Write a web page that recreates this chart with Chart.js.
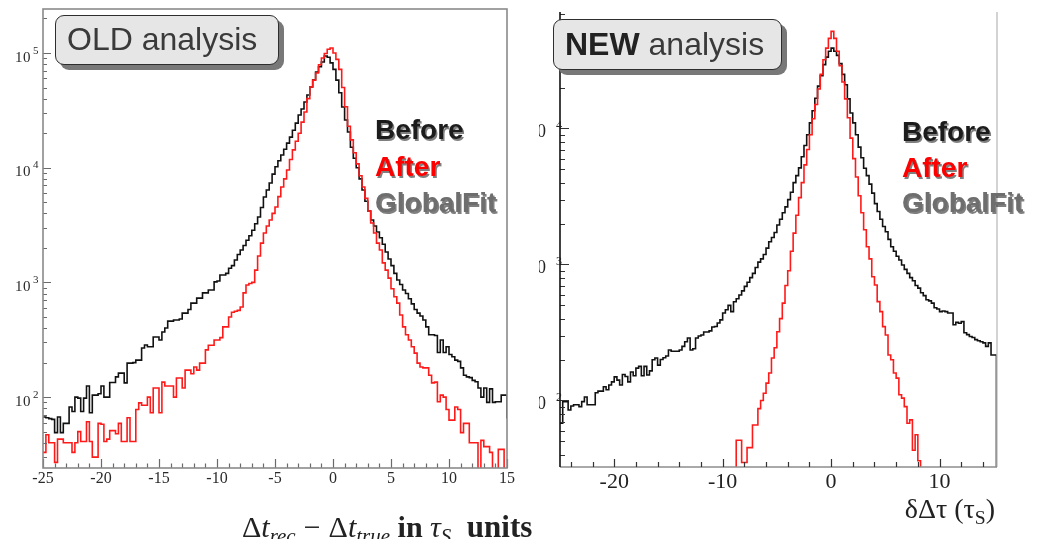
<!DOCTYPE html>
<html>
<head>
<meta charset="utf-8">
<title>OLD vs NEW analysis</title>
<script src="https://cdn.jsdelivr.net/npm/chart.js@4.4.1/dist/chart.umd.min.js"></script>
<style>
  html, body { margin: 0; padding: 0; background: #fff; }
  body { width: 1049px; height: 539px; position: relative; overflow: hidden; }
  canvas { position: absolute; top: 0; }
  #oldChart { left: 0; }
  #newChart { left: 539px; }
  .box { position: absolute; box-sizing: border-box; border: 1.5px solid #2e2e2e; border-radius: 9px;
         background: #e6e6e6; box-shadow: 5px 5px 0 #787878; }
  .boxText { position: absolute; font-family: "Liberation Sans", Arial, sans-serif; font-size: 32px;
             line-height: 32px; color: #3a3a3a; white-space: nowrap; }
  .boxText b { color: #222; }
  .leg { position: absolute; font-family: "Liberation Sans", Arial, sans-serif; font-weight: bold;
         font-size: 28px; line-height: 28px; white-space: nowrap;
         text-shadow: 1.5px 1.5px 0.5px rgba(0,0,0,0.5); }
  .before { color: #1c1c1c; }
  .after { color: #ff0000; }
  .fit { color: #6e6e6e; }
  .xtitle { position: absolute; font-family: "Liberation Serif", "Times New Roman", serif; color: #222; white-space: nowrap; }
  .xtitle sub { font-size: 0.7em; vertical-align: -0.3em; line-height: 0; }
  .op { margin: 0 8px; }
</style>
</head>
<body>
<canvas id="oldChart" width="525" height="539"></canvas>
<canvas id="newChart" width="510" height="539"></canvas>

<div class="box" style="left:55px; top:15px; width:224px; height:50px;"></div>
<div class="boxText" style="left:67px; top:23px;">OLD analysis</div>
<div class="box" style="left:553px; top:19px; width:229px; height:51px;"></div>
<div class="boxText" style="left:565px; top:28px;"><b>NEW</b> analysis</div>

<div class="leg before" style="left:375px; top:116px;">Before</div>
<div class="leg after" style="left:375px; top:153px;">After</div>
<div class="leg fit" style="left:375px; top:189px;">GlobalFit</div>
<div class="leg before" style="left:902px; top:118px;">Before</div>
<div class="leg after" style="left:902px; top:154px;">After</div>
<div class="leg fit" style="left:902px; top:189px;">GlobalFit</div>

<div class="xtitle" style="left:242px; top:512px; font-size:30px; line-height:30px;">&Delta;<i>t</i><sub><i>rec</i></sub><span class="op">&minus;</span>&Delta;<i>t</i><sub><i>true</i></sub> <b>in</b> <i>&tau;</i><sub><i>S</i></sub> <b style="margin-left:8px; font-size:31px;">units</b></div>
<div class="xtitle" style="right:54px; top:495px; font-size:28px; line-height:28px;">&delta;&Delta;&tau; (&tau;<sub>S</sub>)</div>

<script>
// ================== DATA ==================
const binWidth = 0.25;

const oldTicksX = [-25, -20, -15, -10, -5, 0, 5, 10, 15];
const oldDecades = [2, 3, 4, 5];
const newTicksX = [-20, -10, 0, 10];
const newDecades = [2, 3, 4];

// OLD analysis, bins of 0.25 from -25 to 15
const oldBeforeStart = -25;
const oldBefore = [
  67, 66, 65, 64, 49, 67, 49, 59,
  59, 82, 75, 100, 98, 75, 98, 125,
  73, 104, 104, 107, 125, 100, 100, 134,
  134, 150, 162, 162, 133, 198, 198, 200,
  210, 210, 268, 285, 275, 275, 334, 334,
  315, 370, 400, 460, 460, 470, 470, 480,
  540, 540, 580, 660, 660, 730, 730, 810,
  810, 860, 860, 1010, 1030, 1160, 1160, 1200,
  1330, 1400, 1570, 1750, 1920, 2100, 2330, 2550,
  2850, 3250, 3720, 4500, 5550, 6400, 7360, 8800,
  10200, 11500, 12900, 14500, 16400, 18500, 21200, 24500,
  28800, 32500, 37400, 43000, 50600, 58500, 68300, 76000,
  83500, 94200, 92000, 82000, 72000, 58000, 45000, 33800,
  26100, 20500, 15100, 12100, 10000, 8000, 6400, 5100,
  4200, 3500, 3100, 2750, 2450, 2150, 1840, 1600,
  1400, 1200, 1050, 960, 860, 800, 720, 650,
  580, 540, 510, 470, 410, 350, 350, 345,
  245, 315, 245, 275, 235, 225, 210, 205,
  180, 155, 150, 148, 140, 136, 120, 100,
  120, 90, 118, 90, 91, 91, 104, 104
];
const oldBeforeEnd = 65;

const oldAfterStart = -25;
const oldAfter = [
  33, 47, 40, 40, 27, 43, 43, 40,
  40, 40, 33, 40, 50, 41, 41, 61,
  41, 30, 30, 59, 58, 41, 43, 51,
  51, 48, 59, 41, 41, 66, 41, 41,
  78, 89, 85, 85, 100, 73, 120, 120,
  73, 135, 125, 125, 125, 100, 147, 147,
  120, 172, 172, 160, 183, 172, 198, 198,
  258, 283, 283, 315, 315, 330, 410, 410,
  500, 550, 560, 570, 610, 810, 950, 980,
  1000, 1280, 1700, 2200, 2700, 3100, 3500, 4000,
  4540, 5600, 6800, 8000, 9550, 11800, 14300, 17000,
  20000, 25000, 30600, 40000, 50600, 58000, 67000, 79000,
  90500, 99000, 108000, 110600, 100000, 88000, 72000, 50000,
  34000, 23000, 17500, 13500, 10800, 8500, 6800, 5400,
  4200, 3300, 2700, 2200, 1920, 1480, 1280, 1090,
  880, 750, 660, 520, 410, 350, 315, 275,
  242, 198, 183, 180, 180, 155, 133, 135,
  91, 104, 100, 78, 63, 63, 82, 78,
  49, 59, 59, 40, 40, 40, 15, 42,
  37, 37, 33, 15, 15, 35, 35, 15
];
const oldAfterEnd = 15;

// NEW analysis, bins of 0.25 from -25 to 15.25
const newBeforeStart = -25;
const newBefore = [
  68, 98, 98, 85, 91, 93, 93, 90,
  98, 106, 93, 93, 93, 114, 117, 117,
  126, 120, 130, 137, 149, 141, 130, 155,
  150, 137, 162, 152, 173, 178, 152, 178,
  154, 165, 199, 205, 182, 200, 206, 212,
  235, 230, 230, 230, 235, 250, 270, 288,
  235, 240, 288, 298, 303, 319, 319, 325,
  347, 350, 371, 391, 440, 464, 500, 450,
  532, 560, 597, 640, 690, 740, 800, 860,
  950, 1040, 1100, 1185, 1320, 1470, 1580, 1720,
  1950, 2150, 2400, 2650, 3000, 3400, 4000, 4500,
  5130, 6200, 7500, 9000, 11000, 13500, 16700, 20500,
  24500, 29500, 33500, 37000, 39000, 37000, 34500, 30000,
  25000, 21000, 16500, 13000, 11000, 9000, 7300, 6100,
  5100, 4500, 3900, 3350, 2800, 2450, 2150, 1900,
  1740, 1530, 1350, 1250, 1150, 1080, 990, 920,
  860, 800, 760, 700, 670, 620, 590, 550,
  540, 520, 480, 470, 450, 455, 450, 440,
  440, 360, 375, 370, 380, 315, 305, 295,
  290, 280, 275, 270, 265, 250, 265, 216,
  216
];
const newBeforeEnd = 1;

const newAfterStart = -9;
const newAfter = [
  10, 51, 51, 35, 35, 45, 45, 66,
  66, 87, 100, 113, 134, 159, 205, 244,
  320, 400, 520, 700, 900, 1250, 1700, 2300,
  3100, 4000, 5400, 7000, 9000, 11800, 15000, 19500,
  25000, 32000, 39000, 46000, 51800, 46000, 37000, 29000,
  22000, 16500, 12000, 8500, 6000, 4400, 3200, 2400,
  1800, 1350, 1100, 813, 706, 533, 450, 349,
  303, 216, 199, 159, 146, 110, 104, 90,
  68, 72, 43, 56, 36, 10
];
const newAfterEnd = 10;

// ================== HELPERS ==================
function histPoints(start, counts, closing) {
  const pts = counts.map((c, i) => ({ x: start + i * binWidth, y: c }));
  pts.push({ x: start + counts.length * binWidth, y: closing });
  return pts;
}

function histDataset(label, color, pts, order) {
  return {
    label,
    data: pts,
    borderColor: color,
    borderWidth: 1.6,
    pointRadius: 0,
    fill: false,
    stepped: "before",
    tension: 0,
    order,
  };
}

function hLine(ctx, x1, y1, x2, y2) {
  ctx.beginPath();
  ctx.moveTo(x1, y1);
  ctx.lineTo(x2, y2);
  ctx.stroke();
}

// ================== OLD PANEL FRAME ==================
const oldFrame = {
  id: "oldFrame",
  afterDraw(chart) {
    const { ctx, chartArea: a, scales: { x, y } } = chart;
    ctx.save();
    ctx.strokeStyle = "#6a6a6a";
    ctx.lineWidth = 1.2;
    ctx.beginPath();
    for (let d = 1; d <= 5; d++) {
      for (let m = 1; m <= 9; m++) {
        const v = m * Math.pow(10, d);
        if (v < y.min || v > y.max) continue;
        const py = Math.round(y.getPixelForValue(v)) + 0.5;
        ctx.moveTo(a.left, py);
        ctx.lineTo(a.left + (m === 1 ? 8 : 4), py);
      }
    }
    for (let v = -25; v <= 15; v++) {
      const px = Math.round(x.getPixelForValue(v)) + 0.5;
      ctx.moveTo(px, a.bottom);
      ctx.lineTo(px, a.bottom - (v % 5 === 0 ? 9 : 4.5));
    }
    ctx.stroke();

    ctx.strokeStyle = "#8a8a8a";
    ctx.lineWidth = 1.6;
    ctx.strokeRect(a.left, a.top, a.right - a.left, a.bottom - a.top);

    ctx.fillStyle = "#2a2a2a";
    ctx.font = '16px "Liberation Serif", serif';
    ctx.textAlign = "center";
    ctx.textBaseline = "middle";
    oldTicksX.forEach((v) => ctx.fillText(String(v), x.getPixelForValue(v), 479));

    ctx.textAlign = "left";
    ctx.textBaseline = "alphabetic";
    oldDecades.forEach((d) => {
      const py = y.getPixelForValue(Math.pow(10, d));
      ctx.font = '15px "Liberation Serif", serif';
      ctx.fillText("1", 15, py + 8.5);
      ctx.fillText("0", 23, py + 8.5);
      ctx.font = '11px "Liberation Serif", serif';
      ctx.fillText(String(d), 33, py + 0.5);
    });
    ctx.restore();
  },
};

// ================== NEW PANEL FRAME ==================
const newFrame = {
  id: "newFrame",
  afterDraw(chart) {
    const { ctx, chartArea: a, scales: { x, y } } = chart;
    ctx.save();
    ctx.strokeStyle = "#c4c4c4";
    ctx.lineWidth = 1.5;
    hLine(ctx, a.right, a.top, a.right, a.bottom);
    ctx.strokeStyle = "#8c8c8c";
    hLine(ctx, a.left, a.bottom, a.right, a.bottom);

    ctx.strokeStyle = "#333";
    ctx.lineWidth = 1.2;
    ctx.beginPath();
    for (let v = -24; v <= 14; v += 2) {
      const px = Math.round(x.getPixelForValue(v)) + 0.5;
      ctx.moveTo(px, a.bottom);
      ctx.lineTo(px, a.bottom - (v % 10 === 0 ? 8 : 5));
    }
    for (let d = 1; d <= 4; d++) {
      for (let m = 1; m <= 9; m++) {
        const v = m * Math.pow(10, d);
        if (v < y.min || v > y.max) continue;
        const py = Math.round(y.getPixelForValue(v)) + 0.5;
        ctx.moveTo(a.left, py);
        ctx.lineTo(a.left + (m === 1 ? 9 : 5), py);
      }
    }
    ctx.stroke();

    ctx.strokeStyle = "#111";
    ctx.lineWidth = 1.6;
    hLine(ctx, a.left, a.top, a.left, a.bottom);

    ctx.fillStyle = "#222";
    ctx.font = '22px "Liberation Serif", serif';
    ctx.textAlign = "center";
    ctx.textBaseline = "middle";
    newTicksX.forEach((v) => ctx.fillText(String(v), x.getPixelForValue(v), 482));

    // the "1" of each 10^n falls left of the canvas, as in the cropped original
    ctx.textBaseline = "alphabetic";
    newDecades.forEach((d) => {
      const py = y.getPixelForValue(Math.pow(10, d));
      ctx.font = '18px "Liberation Serif", serif';
      ctx.textAlign = "right";
      ctx.fillText("10", a.left - 14, py + 9);
      ctx.font = '12px "Liberation Serif", serif';
      ctx.textAlign = "left";
      ctx.fillText(String(d), a.left - 4, py + 0.5);
    });
    ctx.restore();
  },
};

// ================== CHARTS ==================
function makeChart(id, datasets, xr, yr, pad, yWidth, xHeight, frame) {
  return new Chart(document.getElementById(id).getContext("2d"), {
    type: "line",
    data: { datasets },
    options: {
      responsive: false,
      animation: false,
      devicePixelRatio: 1,
      events: [],
      layout: { padding: pad },
      plugins: { legend: { display: false }, tooltip: { enabled: false } },
      scales: {
        x: {
          type: "linear",
          min: xr[0],
          max: xr[1],
          grid: { display: false, drawTicks: false },
          border: { display: false },
          ticks: { display: false },
          afterFit: (s) => { s.height = xHeight; },
        },
        y: {
          type: "logarithmic",
          min: yr[0],
          max: yr[1],
          grid: { display: false, drawTicks: false },
          border: { display: false },
          ticks: { display: false },
          afterFit: (s) => { s.width = yWidth; },
        },
      },
    },
    plugins: [frame],
  });
}

makeChart(
  "oldChart",
  [
    histDataset("Before", "#111111", histPoints(oldBeforeStart, oldBefore, oldBeforeEnd), 1),
    histDataset("After", "#ff1a1a", histPoints(oldAfterStart, oldAfter, oldAfterEnd), 0),
  ],
  [-25, 15],
  [24.1, 242000],
  { left: 0, top: 9, right: 18, bottom: 0 },
  43,
  71,
  oldFrame
);

makeChart(
  "newChart",
  [
    histDataset("Before", "#111111", histPoints(newBeforeStart, newBefore, newBeforeEnd), 1),
    histDataset("After", "#ff1a1a", histPoints(newAfterStart, newAfter, newAfterEnd), 0),
  ],
  [-25, 15.3],
  [32.4, 71900],
  { left: 0, top: 12, right: 52, bottom: 0 },
  21,
  72,
  newFrame
);
</script>
</body>
</html>
